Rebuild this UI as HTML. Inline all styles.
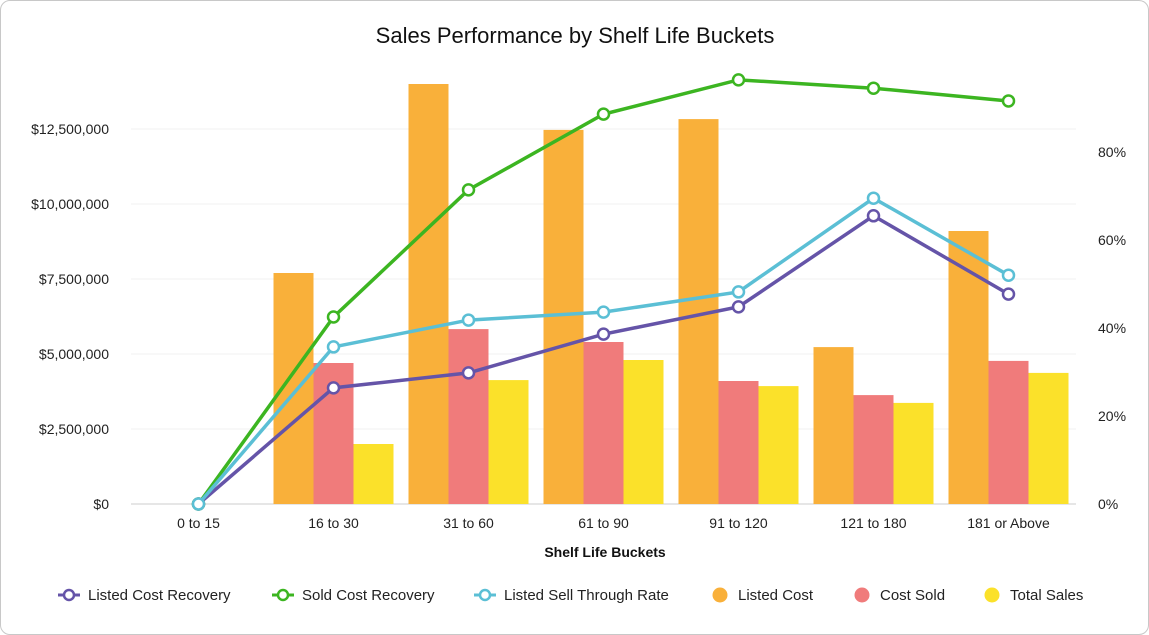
<!DOCTYPE html>
<html><head><meta charset="utf-8">
<style>
html,body{margin:0;padding:0;background:#fff;}
#wrap{position:absolute;left:0;top:0;width:1147px;height:633px;border:1px solid #c8c8c8;border-radius:10px;background:#fff;overflow:hidden;}
svg text{font-family:"Liberation Sans",sans-serif;}
</style></head>
<body>
<div id="wrap">
<svg id="chart" width="1149" height="635"></svg>
</div>
<script>
const categories=["0 to 15","16 to 30","31 to 60","61 to  90","91 to  120","121 to  180","181 or Above"];
const listedCost=[0,7.7,14.0,12.47,12.83,5.23,9.1];
const costSold=[0,4.7,5.83,5.4,4.1,3.63,4.77];
const totalSales=[0,2.0,4.13,4.8,3.93,3.37,4.37];
const listedCostRecovery=[0,26.4,29.8,38.6,44.8,65.5,47.7];
const soldCostRecovery=[0,42.5,71.4,88.6,96.4,94.5,91.6];
const listedSellThrough=[0,35.7,41.8,43.6,48.2,69.5,52.0];
const leftTicks=[0,2.5,5,7.5,10,12.5];
const leftTickLabels=["$0","$2,500,000","$5,000,000","$7,500,000","$10,000,000","$12,500,000"];
const rightTicks=[0,20,40,60,80];
const rightTickLabels=["0%","20%","40%","60%","80%"];

const svg=document.getElementById('chart');
const NS="http://www.w3.org/2000/svg";
const x0=130,bw=135,y0=503;
function xc(i){return x0+bw*i+bw/2;}
function yL(v){return y0-v*30.0;}
function yR(p){return y0-p*4.4;}
function mk(tag,attrs){const e=document.createElementNS(NS,tag);for(const k in attrs)e.setAttribute(k,attrs[k]);svg.appendChild(e);return e;}

let t=mk('text',{x:574,y:42,'text-anchor':'middle','font-size':22,fill:'#111'});t.textContent="Sales Performance by Shelf Life Buckets";



leftTicks.forEach((v,i)=>{
 if(v>0){const g=mk('line',{x1:x0,x2:1075,y1:yL(v),y2:yL(v),stroke:'#f0f0f0'});
 
 }
 const l=mk('text',{x:108,y:yL(v)+5,'text-anchor':'end','font-size':14,fill:'#222'});l.textContent=leftTickLabels[i];
 
 
});
rightTicks.forEach((v,i)=>{
 const l=mk('text',{x:1097,y:yR(v)+5,'text-anchor':'start','font-size':14,fill:'#222'});l.textContent=rightTickLabels[i];
 
 
});
const ax=mk('line',{x1:x0,x2:1075,y1:y0,y2:y0,stroke:'#ccc'});



const barSeries=[[listedCost,'#f9b03a','bar-listed-cost'],[costSold,'#f07b7b','bar-cost-sold'],[totalSales,'#fbe12a','bar-total-sales']];
barSeries.forEach((s,si)=>{
 s[0].forEach((v,i)=>{
  if(v<=0)return;
  const r=mk('rect',{x:xc(i)-60+si*40,y:yL(v),width:40,height:y0-yL(v),fill:s[1]});
  
  
 });
});
categories.forEach((c,i)=>{
 const l=mk('text',{x:xc(i),y:527,'text-anchor':'middle','font-size':14,fill:'#222'});l.textContent=c;
 
 
});
t=mk('text',{x:604,y:556,'text-anchor':'middle','font-size':14,'font-weight':'bold',fill:'#111'});t.textContent="Shelf Life Buckets";



const lineSeries=[[listedCostRecovery,'#6554a8','line-listed-cost-recovery'],[soldCostRecovery,'#3cb521','line-sold-cost-recovery'],[listedSellThrough,'#5bbfd5','line-listed-sell-through']];
lineSeries.forEach(s=>{
 const pts=s[0].map((v,i)=>xc(i)+','+yR(v)).join(' ');
 const p=mk('polyline',{points:pts,fill:'none',stroke:s[1],'stroke-width':3.5});
 
 
 s[0].forEach((v,i)=>{
  const c=mk('circle',{cx:xc(i),cy:yR(v),r:5.5,fill:'#fff',stroke:s[1],'stroke-width':2.5});
  
  
 });
});

const legend=[['line','#6554a8','Listed Cost Recovery',57],['line','#3cb521','Sold Cost Recovery',271],['line','#5bbfd5','Listed Sell Through Rate',473],['dot','#f9b03a','Listed Cost',719],['dot','#f07b7b','Cost Sold',861],['dot','#fbe12a','Total Sales',991]];
legend.forEach(L=>{
 const y=594;
 if(L[0]==='line'){
  const a=mk('line',{x1:L[3],x2:L[3]+22,y1:y,y2:y,stroke:L[1],'stroke-width':3});
  
  
  const c=mk('circle',{cx:L[3]+11,cy:y,r:5,fill:'#fff',stroke:L[1],'stroke-width':2.5});
  
  
  const tx=mk('text',{x:L[3]+30,y:y+5,'font-size':15,fill:'#222'});tx.textContent=L[2];
  
  
 }else{
  const c=mk('circle',{cx:L[3],cy:y,r:7.5,fill:L[1]});
  
  
  const tx=mk('text',{x:L[3]+18,y:y+5,'font-size':15,fill:'#222'});tx.textContent=L[2];
  
  
 }
});
</script>
</body></html>
